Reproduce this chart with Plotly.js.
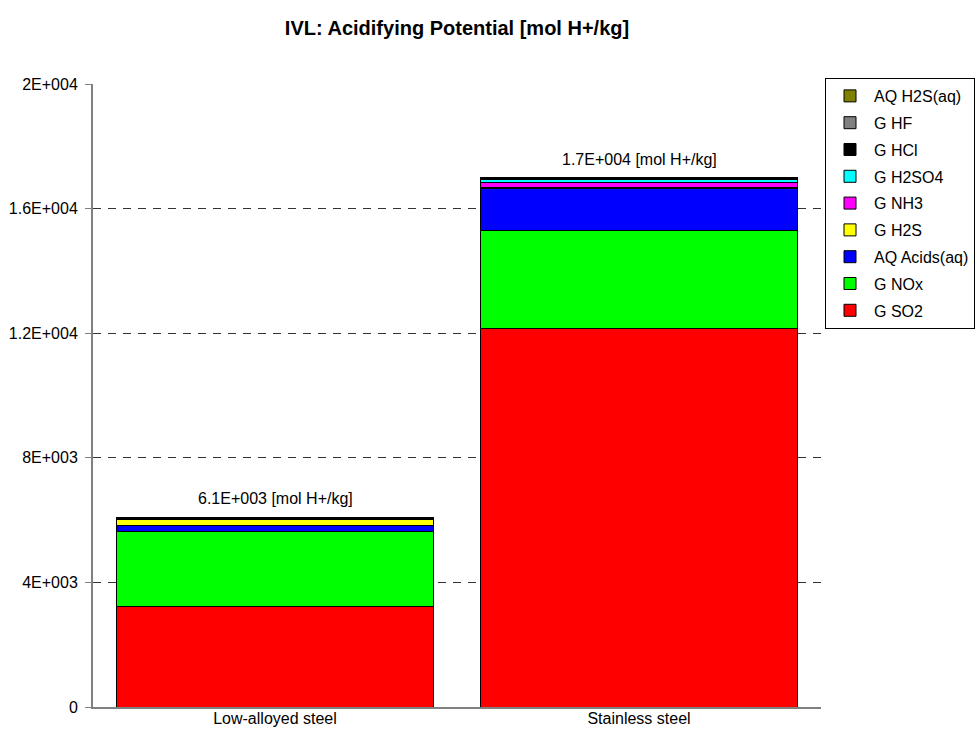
<!DOCTYPE html>
<html>
<head>
<meta charset="utf-8">
<script src="https://cdn.plot.ly/plotly-3.0.1.min.js"></script>
<style>html,body{margin:0;padding:0;background:#fff;}#chart{width:978px;height:731px;}</style>
</head>
<body>
<div id="chart"></div>
<script>
// Data (values in mol H+/kg), stacked bottom-up
const categories = ["Low-alloyed steel", "Stainless steel"];
const seriesNames = ["G SO2", "G NOx", "AQ Acids(aq)", "G H2S", "G NH3", "G H2SO4", "G HCl", "G HF", "AQ H2S(aq)"];
const seriesColors = ["#FF0000", "#00FF00", "#0000FF", "#FFFF00", "#FF00FF", "#00FFFF", "#000000", "#808080", "#808000"];
const gSO2      = [3230, 12160];
const gNOx      = [2400, 3150];
const aqAcids   = [210, 1350];
const gH2S      = [190, 15];
const gNH3      = [15, 160];
const gH2SO4    = [5, 90];
const gHCl      = [40, 50];
const gHF       = [5, 5];
const aqH2S     = [0, 5];
const tickVals  = [0, 4000, 8000, 12000, 16000, 20000];
const tickText  = ["0", "4E+003", "8E+003", "1.2E+004", "1.6E+004", "2E+004"];
const unitLabel = "[mol H+/kg]";
const chartTitle = "IVL: Acidifying Potential [mol H+/kg]";

const seriesValues = [gSO2, gNOx, aqAcids, gH2S, gNH3, gH2SO4, gHCl, gHF, aqH2S];
const FONT = "Liberation Sans, Arial, sans-serif";

const traces = seriesValues.map((vals, i) => ({
  type: "bar",
  name: seriesNames[i],
  x: categories,
  y: vals,
  legendgroup: "g" + i,
  legendrank: (seriesValues.length - i) * 10,
  marker: { color: seriesColors[i], line: { color: "#000000", width: 1 } },
  hoverinfo: "name+y"
}));

function fmtExp(v) {
  const s = v.toExponential(1);           // e.g. 6.1e+3
  const m = s.match(/^([\d.]+)e([+-])(\d+)$/);
  return m[1] + "E" + m[2] + m[3].padStart(3, "0");
}

const totals = categories.map((c, j) => seriesValues.reduce((a, s) => a + s[j], 0));
const annotations = categories.map((c, j) => ({
  x: c, y: totals[j], xref: "x", yref: "y",
  text: fmtExp(totals[j]) + " " + unitLabel,
  showarrow: false, yanchor: "bottom", yshift: 8,
  font: { family: FONT, size: 16, color: "#000" }
}));

const layout = {
  width: 978, height: 731,
  margin: { l: 93, r: 157, t: 84, b: 24, autoexpand: false },
  paper_bgcolor: "#ffffff", plot_bgcolor: "#ffffff",
  barmode: "stack",
  bargap: 0.127,
  font: { family: FONT, size: 16, color: "#000" },
  title: {
    text: "<b>" + chartTitle + "</b>",
    font: { family: FONT, size: 20, color: "#000" },
    x: 0.5, xref: "paper", y: 1 - 28 / 731, yref: "container", yanchor: "middle"
  },
  xaxis: {
    type: "category",
    showline: true, linecolor: "#808080", linewidth: 2,
    ticks: "", showgrid: false, zeroline: false,
    ticklabelstandoff: -4,
    tickfont: { family: FONT, size: 16, color: "#000" }
  },
  yaxis: {
    range: [0, 20000],
    tickvals: tickVals, ticktext: tickText,
    showline: true, linecolor: "#808080", linewidth: 2,
    ticks: "outside", ticklen: 6, tickcolor: "#808080", tickwidth: 1,
    ticklabelstandoff: 4,
    showgrid: true, gridcolor: "#333333", gridwidth: 1, griddash: "8px,7px",
    zeroline: false,
    tickfont: { family: FONT, size: 16, color: "#000" }
  },
  legend: {
    x: (825 - 93) / 728, xanchor: "left",
    y: 1 + (84 - 78) / 622, yanchor: "top",
    bordercolor: "#000000", borderwidth: 1,
    bgcolor: "#ffffff",
    font: { family: FONT, size: 16, color: "#000" },
    traceorder: "grouped",
    tracegroupgap: 3,
    itemwidth: 38
  },
  annotations: annotations,
  showlegend: true
};

Plotly.newPlot("chart", traces, layout, { displayModeBar: false, staticPlot: true });
</script>
</body>
</html>
